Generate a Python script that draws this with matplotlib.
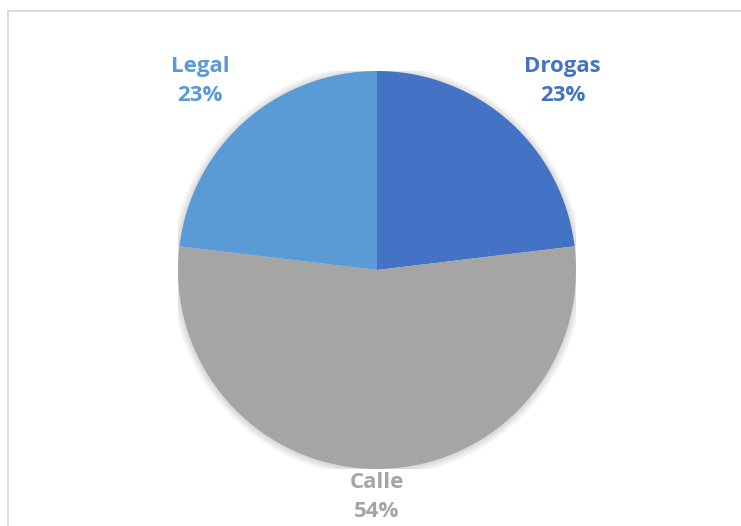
import numpy as np
import matplotlib.pyplot as plt
import matplotlib.lines as mlines
from matplotlib.patches import Circle

categories = ['Drogas', 'Calle', 'Legal']
values = [23.1, 53.8, 23.1]
colors = ['#4472C4', '#A5A5A5', '#5B9BD5']
label_dist = [1.33, 1.14, 1.30]
label_shift = [-3.0, 0.0, 1.5]   # degrees, to sit labels like the original

W, H = 741, 526
fig = plt.figure(figsize=(W/100, H/100), dpi=100)

# chart frame (light grey), runs off the right and bottom edges
fig.add_artist(mlines.Line2D([7.5/W, 7.5/W], [0, 1-10.5/H], color='#D9D9D9', lw=1.3, transform=fig.transFigure))
fig.add_artist(mlines.Line2D([7.5/W, 1], [1-10.5/H, 1-10.5/H], color='#D9D9D9', lw=1.3, transform=fig.transFigure))

cx, cy, R = 377, 270, 199
ax = fig.add_axes([(cx-R)/W, (H-cy-R)/H, 2*R/W, 2*R/H])

# soft shadow around the pie
for k in range(6):
    ax.add_patch(Circle((0, -0.004), 1.0 + 0.006*(k+1), color='k', alpha=0.025, lw=0, zorder=0))

wedges, _ = ax.pie(values, colors=colors, startangle=90, counterclock=False,
                   radius=1.0, wedgeprops=dict(linewidth=0))
for w in wedges:
    w.set_zorder(2)
ax.set_xlim(-1, 1)
ax.set_ylim(-1, 1)
ax.axis('off')

total = sum(values)
for w, name, v, col, d, s in zip(wedges, categories, values, colors, label_dist, label_shift):
    mid = np.deg2rad((w.theta1 + w.theta2)/2 + s)
    ax.text(d*np.cos(mid), d*np.sin(mid), '%s\n%d%%' % (name, round(v/total*100)),
            ha='center', va='center', color=col, fontsize=16, fontweight='bold',
            family='Open Sans', linespacing=1.5, clip_on=False)

fig.savefig('out.png', dpi=100)
